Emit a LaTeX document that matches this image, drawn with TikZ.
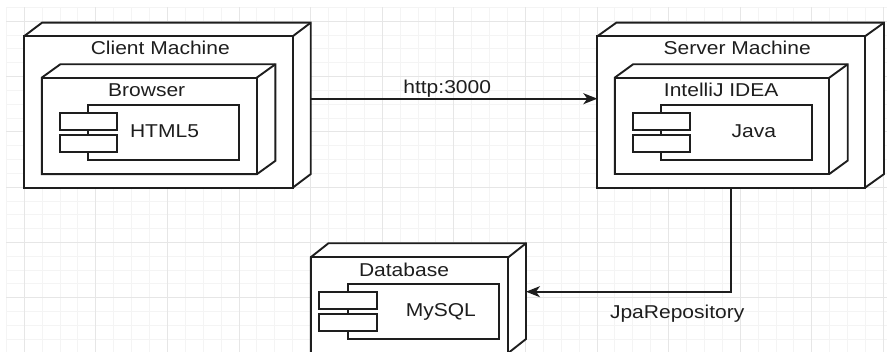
\documentclass[tikz,border=0pt]{standalone}
\usepackage{fontspec}
\setmainfont{Liberation Sans}[FakeStretch=1.13]
\usetikzlibrary{arrows.meta}
\definecolor{gminor}{HTML}{F4F4F4}
\definecolor{gmajor}{HTML}{E6E6E6}
\definecolor{ink}{HTML}{1E1E1E}
\tikzset{
  boxline/.style={draw=ink, line width=1.9pt, fill=white, line join=miter},
  lbl/.style={anchor=base, inner sep=0pt, font=\fontsize{18.6}{20}\selectfont, text=ink},
  conn/.style={draw=ink, line width=1.7pt, -{Stealth[length=14pt,width=11pt,inset=4pt]}},
}
\newcommand{\rectnode}[5]{%
  \node[boxline, rectangle, inner sep=0pt, outer sep=0pt,
        minimum width={(#4-#2)*1pt}, minimum height={(#5-#3)*1pt}]
        (#1) at ({(#2+#4)/2},{(#3+#5)/2}) {};}
\newcommand{\nodebox}[7]{%
  \path[boxline] (#2,#3) -- ({#2+#6},{#3-#7}) -- ({#4+#6},{#3-#7}) -- ({#4+#6},{#5-#7}) -- (#4,#5) -- (#2,#5) -- cycle;
  \draw[boxline, fill=none] (#4,#3) -- ({#4+#6},{#3-#7});
  \rectnode{#1}{#2}{#3}{#4}{#5}
  \node[inner sep=0pt, outer sep=0pt, minimum width={(#4+#6-#2)*1pt}, minimum height={(#5-#3+#7)*1pt}]
        (#1bb) at ({(#2+#4+#6)/2},{(#3-#7+#5)/2}) {};}
\begin{document}
\begin{tikzpicture}[x=1pt,y=-1pt]
\useasboundingbox (0,0) rectangle (887,352);
\clip (0,0) rectangle (887,352);
\fill[white] (0,0) rectangle (887,352);
% grid
\foreach \i in {0,...,49} \draw[gminor, line width=0.8pt] ({6.2+17.9*\i},7.3) -- ({6.2+17.9*\i},352);
\foreach \j in {0,...,24} \draw[gminor, line width=0.8pt] (6.2,{7.3+13.83*\j}) -- (887,{7.3+13.83*\j});
\foreach \i in {0,...,12} \draw[gmajor, line width=0.8pt] ({24.1+71.6*\i},7.3) -- ({24.1+71.6*\i},352);
\foreach \j in {0,...,5} \draw[gmajor, line width=0.8pt] (6.2,{21.1+55.3*\j}) -- (887,{21.1+55.3*\j});

% Client machine
\nodebox{client}{24}{36.3}{292.7}{187.7}{18}{13.6}
\node[lbl] (clientlbl) at (160.3,55) {Client Machine};
\nodebox{browser}{41.7}{77.7}{256.7}{174.3}{18.6}{13.4}
\node[lbl] (browserlbl) at (146.7,97) {Browser};
\rectnode{html}{88.3}{105.3}{239.3}{160.3}
\rectnode{htmltaba}{60}{113.3}{117.3}{130}
\rectnode{htmltabb}{60}{135.3}{117.3}{152.3}
\node[lbl] (htmllbl) at (164.5,137.7) {HTML5};

% Server machine
\nodebox{server}{597.3}{36.3}{865}{187.7}{19}{13.6}
\node[lbl] (serverlbl) at (737.2,55) {Server Machine};
\nodebox{idea}{614.7}{77.7}{829.3}{174}{18.4}{13.4}
\node[lbl] (idealbl) at (721.2,97) {IntelliJ IDEA};
\rectnode{java}{661}{105.3}{812}{160.3}
\rectnode{javataba}{632.7}{113.3}{690}{130}
\rectnode{javatabb}{632.7}{135.3}{690}{152.3}
\node[lbl] (javalbl) at (753.8,138) {Java};

% Database
\nodebox{db}{310.7}{257.3}{508.3}{353}{17.7}{14}
\node[lbl] (dblbl) at (404,276.7) {Database};
\rectnode{mysql}{348.3}{284}{499}{339}
\rectnode{mysqltaba}{319.3}{292}{377.3}{309}
\rectnode{mysqltabb}{319.3}{314.3}{377.3}{331}
\node[lbl] (mysqllbl) at (440.8,316.7) {MySQL};

% connectors
\coordinate (hy) at (0,98.7);
\draw[conn] (clientbb.east |- hy) -- (server.west |- hy);
\node[lbl] (httplbl) at (447.2,93.3) {http:3000};
\coordinate (jy) at (0,291.7);
\draw[conn] (server.south) |- (dbbb.east |- jy);
\node[lbl] (jpalbl) at (677.2,318.3) {JpaRepository};
\end{tikzpicture}
\end{document}
